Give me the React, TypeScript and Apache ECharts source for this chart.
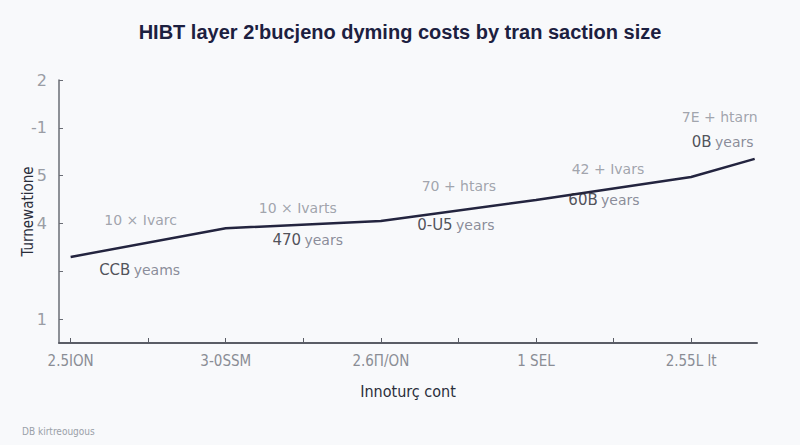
import React, { useEffect, useRef } from "react";
import * as echarts from "echarts";

const xValues = [0, 2, 4, 6, 8, 8.82];
const yValues = [1.3, 1.9, 2.05, 2.49, 2.97, 3.35];
const xTickLabels: Record<number, string> = { 0: "2.5ION", 2: "3-0SSM", 4: "2.6Π/ON", 6: "1 SEL", 8: "2.55L lt" };
const yTickLabels: Record<number, string> = { 0: "1", 1: "", 2: "4", 3: "5", 4: "-1", 5: "2" };
const upperNotes = ["10 × Ivarc", "10 × Ivarts", "70 + htars", "42 + Ivars", "", "7E + htarn"];
const lowerNums = ["CCB", "470", "0-U5", "60B", "", "0B"];
const lowerWords = ["yeams", "years", "years", "years", "", "years"];

const upperOffsets = [[70, -37], [72, -20], [78, -35], [72, -31], [0, 0], [-35, -42]];
const lowerOffsets = [[69, 13], [82, 12], [75, 4], [68, 0], [0, 0], [-32, -17]];

export default function App() {
  const ref = useRef<HTMLDivElement>(null);
  useEffect(() => {
    if (!ref.current) return;
    const chart = echarts.init(ref.current, undefined, { renderer: "svg" });
    const pts = xValues.map((x, i) => [x, yValues[i]]);
    chart.setOption({
      animation: false,
      backgroundColor: "#f8f9fb",
      title: {
        text: "HIBT layer 2'bucjeno dyming costs by tran saction size",
        left: "center",
        top: 17,
        textStyle: { fontFamily: "Liberation Sans, Arial, sans-serif", fontSize: 20, fontWeight: "bold", color: "#1c2040" },
      },
      graphic: [
        {
          type: "text",
          left: 22,
          top: 426,
          style: { text: "DB kirtreougous", fill: "#9aa0a8", fontSize: 10, fontFamily: "DejaVu Sans Condensed, sans-serif" },
        },
      ],
      grid: { left: 59, right: 43, top: 80, bottom: 102 },
      xAxis: {
        type: "value",
        min: -0.15,
        max: 8.85,
        splitNumber: 9,
        minInterval: 1,
        maxInterval: 1,
        name: "Innoturç cont",
        nameLocation: "middle",
        nameGap: 40,
        nameTextStyle: { color: "#2a2d3a", fontSize: 16, fontWeight: 500, fontFamily: "DejaVu Sans Condensed, sans-serif" },
        axisLine: { show: true, onZero: false, lineStyle: { color: "#5a5d66", width: 2 } },
        axisTick: { show: true, inside: true, length: 5, lineStyle: { color: "#5a5d66" } },
        splitLine: { show: false },
        axisLabel: {
          showMinLabel: false,
          showMaxLabel: false,
          margin: 10,
          color: "#8a8d95",
          fontSize: 15,
          fontFamily: "DejaVu Sans Condensed, sans-serif",
          formatter: (v: number) => (Number.isInteger(v) && xTickLabels[v] !== undefined ? xTickLabels[v] : ""),
        },
      },
      yAxis: {
        type: "value",
        min: -0.5,
        max: 5,
        splitNumber: 6,
        minInterval: 1,
        maxInterval: 1,
        name: "Turnewatione",
        nameLocation: "middle",
        nameRotate: 90,
        nameGap: 24,
        nameMoveOverlap: false,
        nameTextStyle: { color: "#2a2d3a", fontSize: 15, fontWeight: 500, fontFamily: "DejaVu Sans Condensed, sans-serif" },
        axisLine: { show: true, onZero: false, lineStyle: { color: "#6a6d75", width: 1.5 } },
        axisTick: { show: true, inside: true, length: 4, lineStyle: { color: "#6a6d75" } },
        splitLine: { show: false },
        axisLabel: {
          showMinLabel: false,
          margin: 12,
          color: "#9a9da5",
          fontSize: 16,
          fontFamily: "DejaVu Sans, sans-serif",
          formatter: (v: number) => (Number.isInteger(v) && yTickLabels[v] !== undefined ? yTickLabels[v] : ""),
        },
      },
      series: [
        {
          type: "line",
          data: pts,
          showSymbol: false,
          symbol: "none",
          lineStyle: { color: "#23243f", width: 2.5 },
          z: 3,
        },
        {
          type: "scatter",
          data: pts.map((p, i) => ({
            value: p,
            label: { show: upperNotes[i] !== "", formatter: upperNotes[i], offset: upperOffsets[i] },
          })),
          symbolSize: 1,
          itemStyle: { color: "rgba(0,0,0,0)" },
          label: {
            position: "inside",
            color: "#8a8e98",
            fontSize: 14,
            fontFamily: "DejaVu Sans, sans-serif",
          },
          z: 4,
        },
        {
          type: "scatter",
          data: pts.map((p, i) => ({
            value: p,
            label: {
              show: lowerNums[i] !== "",
              formatter: `{a|${lowerNums[i]}} {b|${lowerWords[i]}}`,
              offset: lowerOffsets[i],
            },
          })),
          symbolSize: 1,
          itemStyle: { color: "rgba(0,0,0,0)" },
          label: {
            position: "inside",
            rich: {
              a: { color: "#25262f", fontSize: 15, fontFamily: "DejaVu Sans, sans-serif" },
              b: { color: "#6d7080", fontSize: 14, fontFamily: "DejaVu Sans, sans-serif" },
            },
          },
          z: 4,
        },
      ],
    });
    return () => chart.dispose();
  }, []);
  return <div ref={ref} style={{ width: 800, height: 445, position: "fixed", left: 0, top: 0 }} />;
}
